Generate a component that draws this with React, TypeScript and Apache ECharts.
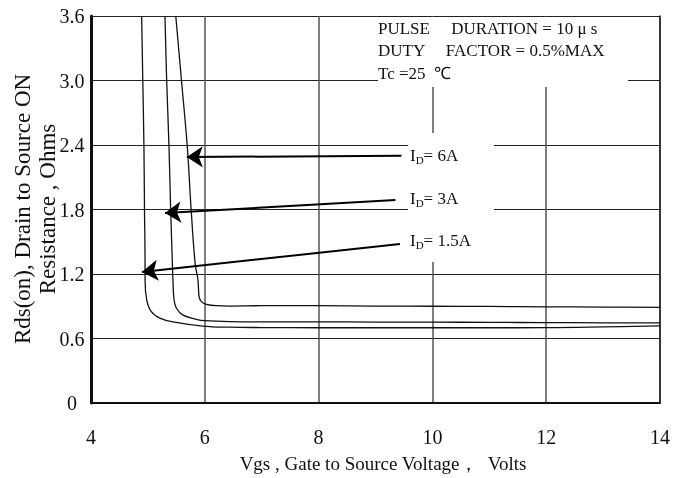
import React, { useEffect, useRef } from "react";
import * as echarts from "echarts";

const xTicks = { min: 4, max: 14, interval: 2 };
const yTicks = { min: 0, max: 3.6, interval: 0.6 };

const curve6A: [number, number][] = [
  [5.49, 3.6], [5.59, 3.0], [5.69, 2.4], [5.76, 1.8], [5.83, 1.3], [5.88, 1.144],
  [5.9, 0.99], [5.94, 0.943], [6.03, 0.918], [6.2, 0.905], [6.44, 0.902], [7, 0.905],
  [8, 0.905], [9, 0.902], [10, 0.9], [11, 0.898], [12, 0.895], [13, 0.892], [14, 0.89],
];
const curve3A: [number, number][] = [
  [5.3, 3.6], [5.33, 3.0], [5.37, 2.4], [5.4, 1.8], [5.43, 1.3], [5.44, 1.144],
  [5.46, 0.958], [5.5, 0.884], [5.61, 0.82], [5.85, 0.779], [6.0, 0.766], [6.44, 0.757],
  [7, 0.755], [8, 0.755], [9, 0.753], [10, 0.752], [11, 0.75], [12, 0.748], [13, 0.746], [14, 0.745],
];
const curve15A: [number, number][] = [
  [4.89, 3.6], [4.91, 3.0], [4.93, 2.4], [4.94, 1.8], [4.95, 1.3], [4.95, 1.144],
  [4.98, 0.958], [5.06, 0.85], [5.21, 0.79], [5.44, 0.754], [5.96, 0.716], [6.44, 0.705],
  [7, 0.702], [8, 0.7], [9, 0.7], [10, 0.7], [11, 0.7], [12, 0.701], [13, 0.708], [14, 0.718],
];

const arrowLines: [number, number][][] = [
  [[9.456, 2.3], [5.684, 2.288]],
  [[9.35, 1.888], [5.3, 1.767]],
  [[9.43, 1.479], [4.895, 1.219]],
];

const idLabels = ["6A", "3A", "1.5A"];
const noteLines = [
  "PULSE     DURATION = 10 μ s",
  "DUTY     FACTOR = 0.5%MAX",
  "Tc =25  ℃",
];
const xTitle = "Vgs , Gate to Source Voltage，  Volts";
const yTitle = ["Rds(on), Drain to Source ON", "Resistance , Ohms"];

const FONT = "'Liberation Serif', 'Times New Roman', serif";

export default function App() {
  const ref = useRef<HTMLDivElement>(null);
  useEffect(() => {
    if (!ref.current) return;
    const chart = echarts.init(ref.current, undefined, { renderer: "svg" });
    const curveSeries = [curve6A, curve3A, curve15A].map((d) => ({
      type: "line",
      data: d,
      showSymbol: false,
      smooth: 0.4,
      lineStyle: { color: "#111", width: 1.3 },
      z: 5,
    }));
    const option: any = {
      animation: false,
      grid: { left: 91, right: 28, top: 16, bottom: 75 },
      xAxis: [
        {
          type: "value",
          ...xTicks,
          axisLine: { show: true, lineStyle: { color: "#666", width: 2 } },
          axisTick: { show: false },
          splitLine: { show: true, lineStyle: { color: "#555", width: 1.5 } },
          axisLabel: { color: "#111", fontSize: 20, fontFamily: FONT, margin: 24 },
        },
        {
          type: "value",
          position: "top",
          ...xTicks,
          axisLine: { show: true, lineStyle: { color: "#111", width: 2 } },
          axisTick: { show: false },
          splitLine: { show: false },
          axisLabel: { show: false },
        },
      ],
      yAxis: [
        {
          type: "value",
          ...yTicks,
          axisLine: { show: true, lineStyle: { color: "#111", width: 3 } },
          axisTick: { show: false },
          splitLine: { show: true, lineStyle: { color: "#222", width: 1.2 } },
          axisLabel: {
            color: "#111",
            fontSize: 20,
            fontFamily: FONT,
            margin: 19,
            align: "center",
            formatter: (v: number) => (v === 0 ? "0" : v.toFixed(1)),
          },
        },
        {
          type: "value",
          position: "right",
          ...yTicks,
          axisLine: { show: true, lineStyle: { color: "#222", width: 1.5 } },
          axisTick: { show: false },
          splitLine: { show: false },
          axisLabel: { show: false },
        },
      ],
      series: [
        ...curveSeries,
        {
          type: "lines",
          coordinateSystem: "cartesian2d",
          data: arrowLines.map((c) => ({ coords: c })),
          symbol: ["none", "arrow"],
          symbolSize: [13, 16],
          lineStyle: { color: "#000", width: 2, opacity: 1 },
          itemStyle: { color: "#000" },
          z: 6,
        },
      ],
      graphic: [
        { type: "rect", shape: { x: 378, y: 17, width: 250, height: 70 }, style: { fill: "#fff" }, z: 50 },
        { type: "rect", shape: { x: 408, y: 133, width: 86, height: 129 }, style: { fill: "#fff" }, z: 50 },
        ...noteLines.map((t, i) => ({
          type: "text",
          x: 378,
          y: 28 + i * 22.5,
          z: 51,
          style: { text: t, fill: "#111", fontSize: 17, fontFamily: FONT, textAlign: "left", textVerticalAlign: "middle" },
        })),
        ...idLabels.map((t, i) => ({
          type: "text",
          x: 410,
          y: [155, 198, 240][i],
          z: 51,
          style: {
            text: `{a|I}{s|D}{a|= ${t}}`,
            textAlign: "left",
            textVerticalAlign: "middle",
            rich: {
              a: { fontSize: 17, fontFamily: FONT, fill: "#111", lineHeight: 20, verticalAlign: "middle" },
              s: { fontSize: 11, fontFamily: FONT, fill: "#111", lineHeight: 20, verticalAlign: "bottom" },
            },
          },
        })),
        {
          type: "text",
          x: 383,
          y: 463,
          z: 51,
          style: { text: xTitle, fill: "#111", fontSize: 19, fontFamily: FONT, textAlign: "center", textVerticalAlign: "middle" },
        },
        {
          type: "text",
          x: 35,
          y: 209,
          rotation: Math.PI / 2,
          z: 51,
          style: {
            text: yTitle.join("\n"),
            fill: "#111",
            fontSize: 23,
            lineHeight: 25,
            fontFamily: FONT,
            textAlign: "center",
            textVerticalAlign: "middle",
          },
        },
      ],
    };
    chart.setOption(option);
    return () => chart.dispose();
  }, []);
  return <div ref={ref} style={{ position: "fixed", left: 0, top: 0, width: 688, height: 478 }} />;
}
